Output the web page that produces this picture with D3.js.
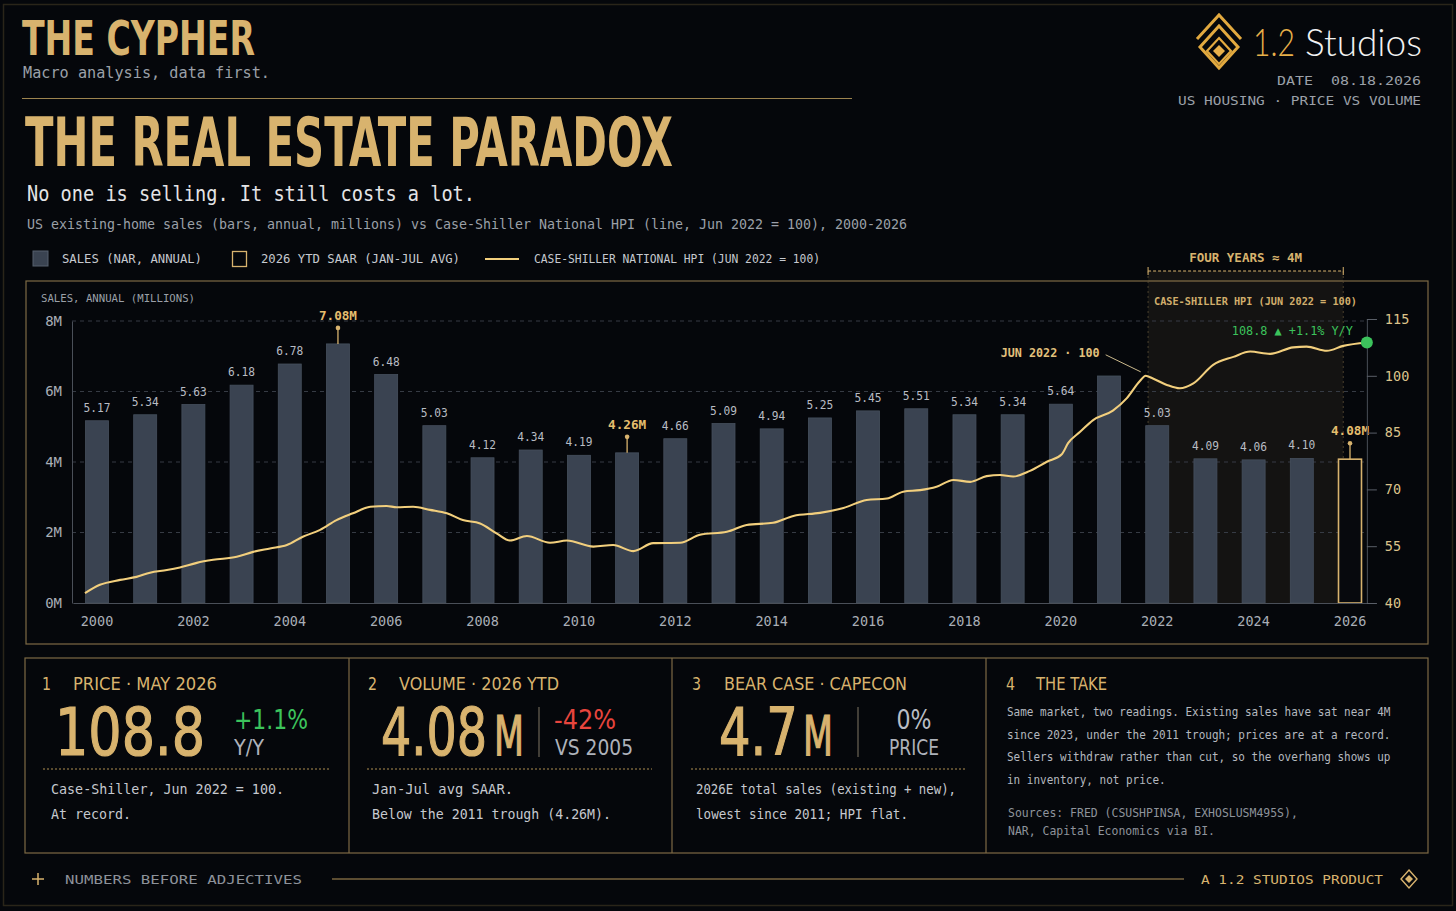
<!DOCTYPE html>
<html>
<head>
<meta charset="utf-8">
<script src="https://cdn.jsdelivr.net/npm/d3@7"></script>
<style>
  html, body { margin: 0; padding: 0; background: #05070b; }
  svg { display: block; }
</style>
</head>
<body>
<svg id="chart" width="1456" height="911"></svg>
<script>
// ---- data ----
var years = [2000, 2001, 2002, 2003, 2004, 2005, 2006, 2007, 2008, 2009, 2010, 2011, 2012,
             2013, 2014, 2015, 2016, 2017, 2018, 2019, 2020, 2021, 2022, 2023, 2024, 2025, 2026];
// existing-home sales, millions (bar heights)
var sales = [5.17, 5.34, 5.63, 6.18, 6.78, 7.35, 6.48, 5.03, 4.12, 4.34, 4.19, 4.26, 4.66,
             5.09, 4.94, 5.25, 5.45, 5.51, 5.34, 5.34, 5.64, 6.44, 5.03, 4.09, 4.06, 4.10, 4.08];
var salesLabels = ['5.17', '5.34', '5.63', '6.18', '6.78', '7.08M', '6.48', '5.03', '4.12', '4.34',
                   '4.19', '4.26M', '4.66', '5.09', '4.94', '5.25', '5.45', '5.51', '5.34', '5.34',
                   '5.64', '', '5.03', '4.09', '4.06', '4.10', '4.08M'];
var calloutYears = [2005, 2011, 2026];
var ytdYear = 2026;

// Case-Shiller national HPI, Jun 2022 = 100 (decimal year position on the bar axis)
var hpiDates = [1999.75, 2000.06, 2000.48, 2000.82, 2001.10, 2001.45, 2001.72, 2002.07, 2002.41, 2002.90,
                2003.24, 2003.59, 2003.94, 2004.27, 2004.63, 2004.97, 2005.31, 2005.67, 2006.01, 2006.22,
                2006.56, 2006.91, 2007.26, 2007.59, 2007.95, 2008.29, 2008.57, 2008.92, 2009.40, 2009.75,
                2010.30, 2010.71, 2011.13, 2011.54, 2012.10, 2012.51, 2013.07, 2013.48, 2014.03, 2014.45,
                2015.00, 2015.49, 2015.97, 2016.39, 2016.73, 2017.08, 2017.42, 2017.77, 2018.12, 2018.46,
                2018.74, 2019.01, 2019.36, 2019.71, 2020.02, 2020.15, 2020.40, 2020.67, 2021.08, 2021.37,
                2021.64, 2021.76, 2021.91, 2022.20, 2022.47, 2022.75, 2023.16, 2023.58, 2023.93, 2024.34,
                2024.82, 2025.10, 2025.52, 2025.86, 2026.35];
var hpiValues = [42.6, 44.8, 46.1, 46.9, 48.0, 48.7, 49.4, 50.6, 51.4, 52.2,
                 53.5, 54.4, 55.3, 57.5, 59.3, 61.9, 63.7, 65.4, 65.6, 65.3,
                 65.4, 64.6, 63.7, 61.9, 61.0, 58.4, 56.5, 57.7, 55.9, 56.5,
                 54.9, 55.3, 53.7, 55.8, 55.9, 58.0, 58.8, 60.6, 61.2, 63.0,
                 63.8, 65.1, 67.2, 67.6, 69.4, 69.8, 70.7, 72.5, 72.0, 73.5,
                 73.8, 73.4, 74.9, 77.3, 79.3, 82.2, 85.2, 88.3, 90.8, 94.1,
                 98.6, 100.0, 99.3, 97.6, 96.7, 98.0, 102.9, 105.0, 106.4, 105.8,
                 107.5, 107.7, 106.6, 107.9, 108.8];
var peakIndex = 61;                 // Jun 2022 = 100
var shadeSpan = [2021.81, 2025.86]; // "four years ~ 4M"

var salesTicks = [0, 2, 4, 6, 8];
var hpiTicks = [40, 55, 70, 85, 100, 115];
var xTickYears = [2000, 2002, 2004, 2006, 2008, 2010, 2012, 2014, 2016, 2018, 2020, 2022, 2024, 2026];

var takeLines = [
  'Same market, two readings. Existing sales have sat near 4M',
  'since 2023, under the 2011 trough; prices are at a record.',
  'Sellers withdraw rather than cut, so the overhang shows up',
  'in inventory, not price.'
];
var sourceLines = ['Sources: FRED (CSUSHPINSA, EXHOSLUSM495S),', 'NAR, Capital Economics via BI.'];

// ---- style ----
var MONO = "'DejaVu Sans Mono', 'Liberation Mono', monospace";
var COND = "'Liberation Sans Narrow', 'DejaVu Sans Condensed', 'DejaVu Sans', sans-serif";
var GOLD = '#d8b36e', GOLD_DIM = '#7d6a45', GREY = '#9ba0a8', LIGHT = '#c6c9cf';
var BAR = '#3a4351', LINE = '#f2cf7d', GREEN = '#3cc35c', RED = '#e8453d';

var svg = d3.select('#chart');

function label(parent, s, x, y, o) {
  o = o || {};
  var t = parent.append('text').attr('x', x).attr('y', y).text(s)
    .attr('font-family', o.font || MONO)
    .attr('font-size', o.size || 12)
    .attr('fill', o.fill || GREY);
  if (o.weight) t.attr('font-weight', o.weight);
  if (o.anchor) t.attr('text-anchor', o.anchor);
  if (o.width) t.attr('textLength', o.width).attr('lengthAdjust', 'spacingAndGlyphs');
  if (o.stroke) t.attr('stroke', o.fill).attr('stroke-width', o.stroke);
  return t;
}

// squeeze a text horizontally with a transform so its box is exactly w wide
function squeezed(s, x, y, size, w) {
  var t = svg.append('text').attr('x', 0).attr('y', 0).text(s)
    .attr('font-family', COND).attr('font-size', size).attr('fill', GOLD)
    .attr('stroke', GOLD).attr('stroke-width', 1.2);
  var natural = t.node().getComputedTextLength();
  t.attr('transform', 'translate(' + x + ',' + y + ') scale(' + (w / natural) + ',1)');
  return t;
}

// background + outer frame
svg.append('rect').attr('width', 1456).attr('height', 911).attr('fill', '#05070b');
svg.append('rect').attr('x', 3.5).attr('y', 4.5).attr('width', 1449).attr('height', 901)
  .attr('fill', 'none').attr('stroke', '#2a2519').attr('stroke-width', 1.5);

// ---- header ----
label(svg, 'THE CYPHER', 22, 55, { font: COND, size: 48, weight: 'bold', fill: GOLD, width: 233 });
label(svg, 'Macro analysis, data first.', 23, 78, { size: 15, fill: GREY, width: 247 });
svg.append('line').attr('x1', 22).attr('x2', 852).attr('y1', 98.5).attr('y2', 98.5)
  .attr('stroke', '#9c844f').attr('stroke-width', 1.2);
label(svg, 'THE REAL ESTATE PARADOX', 25, 166, { font: COND, size: 68, weight: 'bold', fill: GOLD, width: 648 });
label(svg, 'No one is selling. It still costs a lot.', 27, 201, { size: 21, fill: '#e4e4e6', width: 448 });
label(svg, 'US existing-home sales (bars, annual, millions) vs Case-Shiller National HPI (line, Jun 2022 = 100), 2000-2026',
  27, 229, { size: 13.5, fill: GREY, width: 880 });

// logo
var logo = svg.append('g').attr('fill', 'none').attr('stroke', '#e2a93f').attr('stroke-linejoin', 'miter');
logo.append('path').attr('d', 'M1197,39 L1219,15 L1241,39').attr('stroke-width', 3);
logo.append('path').attr('d', 'M1219,26 L1238,47 L1219,68 L1200,47 Z').attr('stroke-width', 3);
logo.append('path').attr('d', 'M1219,38 L1231,51 L1219,64 L1207,51 Z').attr('stroke-width', 2.2);
svg.append('path').attr('d', 'M1219,45 L1225,51 L1219,57 L1213,51 Z').attr('fill', '#e8b04a');
label(svg, '1.2', 1253, 56, { font: "Lato, 'Open Sans', sans-serif", size: 38, weight: 300, fill: '#e8b04a', width: 42 });
label(svg, 'Studios', 1305, 56, { font: "Lato, 'Open Sans', sans-serif", size: 38, weight: 300, fill: '#f2f2f2', width: 117 });
label(svg, 'DATE\u00a0\u00a008.18.2026', 1421, 85, { size: 13, fill: GREY, anchor: 'end', width: 144 });
label(svg, 'US HOUSING \u00b7 PRICE VS VOLUME', 1421, 105, { size: 13, fill: GREY, anchor: 'end', width: 243 });

// legend
svg.append('rect').attr('x', 33).attr('y', 251).attr('width', 15).attr('height', 15)
  .attr('fill', BAR).attr('stroke', '#56606e');
label(svg, 'SALES (NAR, ANNUAL)', 62, 263, { size: 12, fill: LIGHT, width: 140 });
svg.append('rect').attr('x', 232.5).attr('y', 251.5).attr('width', 14).attr('height', 15)
  .attr('fill', 'none').attr('stroke', GOLD).attr('stroke-width', 1.3);
label(svg, '2026 YTD SAAR (JAN-JUL AVG)', 261, 263, { size: 12, fill: LIGHT, width: 199 });
svg.append('line').attr('x1', 485).attr('x2', 519).attr('y1', 259).attr('y2', 259)
  .attr('stroke', LINE).attr('stroke-width', 2);
label(svg, 'CASE-SHILLER NATIONAL HPI (JUN 2022 = 100)', 534, 263, { size: 12, fill: LIGHT, width: 286 });

// ---- chart ----
svg.append('rect').attr('x', 26).attr('y', 281).attr('width', 1402).attr('height', 363)
  .attr('fill', 'none').attr('stroke', GOLD_DIM).attr('stroke-width', 1.2);

var x = d3.scaleBand().domain(years).range([72.9, 1374.1]).paddingInner(0.523).paddingOuter(0.2615);
var bw = x.bandwidth();
var xc = function(yr) { return x(yr) + bw / 2; };
var xt = d3.scaleLinear().domain([years[0], years[years.length - 1]]).range([xc(years[0]), xc(years[years.length - 1])]);
var y = d3.scaleLinear().domain([0, 8]).range([603, 321]);
var yH = d3.scaleLinear().domain([40, 115]).range([603, 319]);

var lastX = xt(hpiDates[hpiDates.length - 1]);
var lastY = yH(hpiValues[hpiValues.length - 1]);

// shaded four-year window
var sx0 = xt(shadeSpan[0]), sx1 = xt(shadeSpan[1]);
svg.append('rect').attr('x', sx0).attr('y', 271).attr('width', sx1 - sx0).attr('height', y(0) - 271)
  .attr('fill', '#d8b36e').attr('fill-opacity', 0.075);
svg.append('line').attr('x1', sx0).attr('x2', sx0).attr('y1', 271).attr('y2', y(0))
  .attr('stroke', '#5a4e36').attr('stroke-width', 0.8).attr('stroke-dasharray', '2,3');
svg.append('line').attr('x1', sx1).attr('x2', sx1).attr('y1', 271).attr('y2', y(0))
  .attr('stroke', '#5a4e36').attr('stroke-width', 0.8).attr('stroke-dasharray', '2,3');
svg.append('line').attr('x1', sx0).attr('x2', sx1).attr('y1', 271).attr('y2', 271)
  .attr('stroke', GOLD).attr('stroke-width', 1).attr('stroke-dasharray', '3,2');
[sx0, sx1].forEach(function(px) {
  svg.append('line').attr('x1', px).attr('x2', px).attr('y1', 267).attr('y2', 275)
    .attr('stroke', GOLD).attr('stroke-width', 1);
});
label(svg, 'FOUR YEARS \u2248 4M', (sx0 + sx1) / 2, 262, { size: 12.5, weight: 'bold', fill: GOLD, anchor: 'middle', width: 113 });
label(svg, 'CASE-SHILLER HPI (JUN 2022 = 100)', 1357, 305, { size: 10.5, weight: 'bold', fill: '#d2ae6c', anchor: 'end', width: 203 });

// gridlines
svg.append('g').selectAll('line').data(salesTicks.slice(1)).enter().append('line')
  .attr('x1', 72).attr('x2', lastX)
  .attr('y1', function(d) { return y(d); }).attr('y2', function(d) { return y(d); })
  .attr('stroke', '#363b44').attr('stroke-width', 1).attr('stroke-dasharray', '4,4');

label(svg, 'SALES, ANNUAL (MILLIONS)', 41, 302, { size: 10.5, fill: GREY, width: 154 });

// left axis
var gl = svg.append('g').attr('transform', 'translate(72,0)')
  .call(d3.axisLeft(y).tickValues(salesTicks).tickFormat(function(d) { return d + 'M'; })
    .tickSize(0).tickPadding(10));
gl.select('.domain').attr('stroke', '#4a4f58');
gl.selectAll('text').attr('font-family', MONO).attr('font-size', 14).attr('fill', '#a9aeb6');

// bars
svg.append('g').selectAll('rect').data(years).enter().append('rect')
  .attr('x', function(d) { return x(d); })
  .attr('y', function(d, i) { return y(sales[i]); })
  .attr('width', bw)
  .attr('height', function(d, i) { return y(0) - y(sales[i]); })
  .attr('fill', function(d) { return d === ytdYear ? '#07090d' : BAR; })
  .attr('stroke', function(d) { return d === ytdYear ? GOLD : '#46505e'; })
  .attr('stroke-width', function(d) { return d === ytdYear ? 1.6 : 0.8; });

// bar value labels
years.forEach(function(yr, i) {
  var s = salesLabels[i];
  if (!s) return;
  var top = y(sales[i]);
  if (calloutYears.indexOf(yr) >= 0) {
    svg.append('line').attr('x1', xc(yr)).attr('x2', xc(yr)).attr('y1', top).attr('y2', top - 16)
      .attr('stroke', GOLD).attr('stroke-width', 1.3);
    svg.append('circle').attr('cx', xc(yr)).attr('cy', top - 16).attr('r', 2.3).attr('fill', GOLD);
    label(svg, s, xc(yr), top - 24, { size: 12.5, weight: 'bold', fill: '#e6be6e', anchor: 'middle', width: 38 });
  } else {
    label(svg, s, xc(yr), top - 9, { size: 12.5, fill: '#b8bcc3', anchor: 'middle', width: 27 });
  }
});

// bottom axis
var gb = svg.append('g').attr('transform', 'translate(0,' + y(0) + ')')
  .call(d3.axisBottom(x).tickValues(xTickYears).tickSize(0).tickPadding(13));
gb.select('.domain').attr('stroke', '#4a4f58');
gb.selectAll('text').attr('font-family', MONO).attr('font-size', 13.5).attr('fill', '#a9aeb6');

// HPI line
var pts = hpiDates.map(function(d, i) { return [xt(d), yH(hpiValues[i])]; });
svg.append('path').datum(pts)
  .attr('fill', 'none').attr('stroke', LINE).attr('stroke-width', 2.1)
  .attr('d', d3.line().curve(d3.curveMonotoneX));

// right axis
var gr = svg.append('g').attr('transform', 'translate(' + lastX + ',0)')
  .call(d3.axisRight(yH).tickValues(hpiTicks).tickSize(10).tickPadding(8));
gr.select('.domain').attr('stroke', '#4a4f58');
gr.selectAll('line').attr('stroke', '#5a5f68');
gr.selectAll('text').attr('font-family', MONO).attr('font-size', 13.5).attr('fill', '#dcc38a');

// peak annotation
var pk = pts[peakIndex];
svg.append('line').attr('x1', pk[0] - 40).attr('y1', pk[1] - 21).attr('x2', pk[0] - 5).attr('y2', pk[1] - 4)
  .attr('stroke', '#cbb98c').attr('stroke-width', 1);
label(svg, 'JUN 2022 \u00b7 100', pk[0] - 46, pk[1] - 19, { size: 11.5, weight: 'bold', fill: '#e2c07c', anchor: 'end', width: 99 });

// latest point
svg.append('circle').attr('cx', lastX).attr('cy', lastY).attr('r', 6).attr('fill', GREEN);
label(svg, '108.8 \u25b2 +1.1% Y/Y', lastX - 14, lastY - 7, { size: 12, fill: GREEN, anchor: 'end', width: 121 });

// ---- cards ----
svg.append('rect').attr('x', 25).attr('y', 658).attr('width', 1403).attr('height', 195)
  .attr('fill', 'none').attr('stroke', GOLD_DIM).attr('stroke-width', 1.2);
[349, 672, 986].forEach(function(px) {
  svg.append('line').attr('x1', px).attr('x2', px).attr('y1', 658).attr('y2', 853)
    .attr('stroke', GOLD_DIM).attr('stroke-width', 1.2);
});

function cardTitle(num, s, x0, x1, w) {
  label(svg, num, x0, 690, { font: COND, size: 17, fill: GOLD, width: 9 });
  label(svg, s, x1, 690, { font: COND, size: 17, fill: GOLD, width: w });
}
function dotted(x0, x1) {
  svg.append('line').attr('x1', x0).attr('x2', x1).attr('y1', 769).attr('y2', 769)
    .attr('stroke', '#b08f52').attr('stroke-width', 1.2).attr('stroke-dasharray', '2,2');
}
function divider(px) {
  svg.append('line').attr('x1', px).attr('x2', px).attr('y1', 707).attr('y2', 757)
    .attr('stroke', '#6b6556').attr('stroke-width', 1.2);
}

// card 1
cardTitle('1', 'PRICE \u00b7 MAY 2026', 42, 73, 144);
squeezed('108.8', 55, 755, 66, 150);
label(svg, '+1.1%', 234, 729, { font: COND, size: 27, fill: GREEN, width: 74 });
label(svg, 'Y/Y', 234, 755, { font: COND, size: 22, fill: '#aeb2ba', width: 30 });
dotted(43, 329);
label(svg, 'Case-Shiller, Jun 2022 = 100.', 51, 794, { size: 13.5, fill: LIGHT, width: 233 });
label(svg, 'At record.', 51, 819, { size: 13.5, fill: LIGHT, width: 80 });

// card 2
cardTitle('2', 'VOLUME \u00b7 2026 YTD', 368, 399, 160);
squeezed('4.08', 381, 755, 66, 106);
squeezed('M', 494, 755, 55, 30);
divider(539);
label(svg, '-42%', 554, 729, { font: COND, size: 27, fill: RED, width: 62 });
label(svg, 'VS 2005', 555, 755, { font: COND, size: 22, fill: '#aeb2ba', width: 78 });
dotted(367, 652);
label(svg, 'Jan-Jul avg SAAR.', 372, 794, { size: 13.5, fill: LIGHT, width: 141 });
label(svg, 'Below the 2011 trough (4.26M).', 372, 819, { size: 13.5, fill: LIGHT, width: 239 });

// card 3
cardTitle('3', 'BEAR CASE \u00b7 CAPECON', 692, 724, 183);
squeezed('4.7', 719, 755, 66, 79);
squeezed('M', 803, 755, 55, 30);
divider(858);
label(svg, '0%', 914, 729, { font: COND, size: 27, fill: '#b9bdc4', anchor: 'middle', width: 35 });
label(svg, 'PRICE', 914, 755, { font: COND, size: 22, fill: '#aeb2ba', anchor: 'middle', width: 50 });
dotted(691, 965);
label(svg, '2026E total sales (existing + new),', 696, 794, { size: 13.5, fill: LIGHT, width: 260 });
label(svg, 'lowest since 2011; HPI flat.', 696, 819, { size: 13.5, fill: LIGHT, width: 212 });

// card 4
cardTitle('4', 'THE TAKE', 1006, 1036, 71);
takeLines.forEach(function(s, i) {
  label(svg, s, 1007, 716 + i * 22.7, { size: 11.5, fill: '#b4b8bf', width: s.length * 6.61 });
});
sourceLines.forEach(function(s, i) {
  label(svg, s, 1008, 817 + i * 18, { size: 11.5, fill: '#8e939b', width: s.length * 6.9 });
});

// ---- footer ----
svg.append('path').attr('d', 'M32,879 L44,879 M38,873 L38,885').attr('stroke', GOLD).attr('stroke-width', 1.5);
label(svg, 'NUMBERS BEFORE ADJECTIVES', 65, 884, { size: 12.5, fill: '#8d929a', width: 237 });
svg.append('line').attr('x1', 332).attr('x2', 1184).attr('y1', 879).attr('y2', 879)
  .attr('stroke', '#7a6641').attr('stroke-width', 1.5);
label(svg, 'A 1.2 STUDIOS PRODUCT', 1201, 884, { size: 12.5, fill: GOLD, width: 182 });
svg.append('path').attr('d', 'M1409,870 L1417,879 L1409,888 L1401,879 Z')
  .attr('fill', 'none').attr('stroke', GOLD).attr('stroke-width', 1.4);
svg.append('path').attr('d', 'M1409,875 L1413,879 L1409,883 L1405,879 Z').attr('fill', GOLD);
</script>
</body>
</html>
